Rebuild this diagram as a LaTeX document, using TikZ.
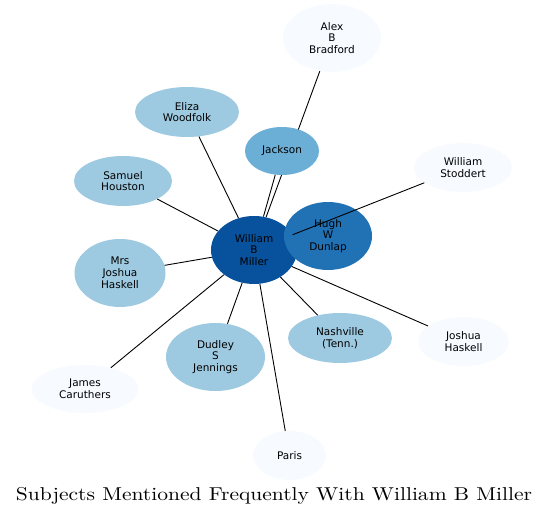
\documentclass[tikz,border=0pt]{standalone}
\usepackage{fontspec}
\newfontfamily\subjfont{DejaVu Sans}
\newfontfamily\titlefont{lmroman10-regular.otf}
\usetikzlibrary{positioning,shapes.geometric}
\definecolor{blueA}{HTML}{08519C}
\definecolor{blueB}{HTML}{2171B5}
\definecolor{blueC}{HTML}{6BAED6}
\definecolor{blueD}{HTML}{9ECAE1}
\definecolor{blueE}{HTML}{F7FBFF}
\pgfdeclarelayer{back}
\pgfsetlayers{back,main}

\begin{document}
\begin{tikzpicture}[x=1pt,y=1pt,on grid,
	subject/.style={ellipse,draw=none,inner sep=0pt,align=center,
		font=\subjfont\fontsize{10.5}{11.8}\selectfont},
	link/.style={line width=0.9pt}]
	\useasboundingbox (0,0) rectangle (545,516);
	\node[subject,fill=blueA,minimum width=86pt,minimum height=68pt] (miller) at (254,266) {William\\B\\Miller};
	\node[subject,fill=blueB,minimum width=88pt,minimum height=68pt,above right=14pt and 74pt of miller] (dunlap) {Hugh\\W\\Dunlap};
	\node[subject,fill=blueC,minimum width=74pt,minimum height=48pt,above right=99pt and 28pt of miller] (jackson) {Jackson};
	\node[subject,fill=blueE,minimum width=98pt,minimum height=68pt,above right=212pt and 78pt of miller] (bradford) {Alex\\B\\Bradford};
	\node[subject,fill=blueD,minimum width=104pt,minimum height=50pt,above left=138pt and 67pt of miller] (woodfolk) {Eliza\\Woodfolk};
	\node[subject,fill=blueD,minimum width=98pt,minimum height=50pt,above left=69pt and 131pt of miller] (houston) {Samuel\\Houston};
	\node[subject,fill=blueD,minimum width=91pt,minimum height=68pt,below left=23pt and 134pt of miller] (mrshaskell) {Mrs\\Joshua\\Haskell};
	\node[subject,fill=blueE,minimum width=98pt,minimum height=49pt,above right=82.5pt and 209pt of miller] (stoddert) {William\\Stoddert};
	\node[subject,fill=blueE,minimum width=91pt,minimum height=49pt,below right=91.5pt and 209.5pt of miller] (haskell) {Joshua\\Haskell};
	\node[subject,fill=blueD,minimum width=104pt,minimum height=50pt,below right=88pt and 86pt of miller] (nashville) {Nashville\\(Tenn.)};
	\node[subject,fill=blueD,minimum width=99pt,minimum height=68pt,below left=107pt and 38.5pt of miller] (jennings) {Dudley\\S\\Jennings};
	\node[subject,fill=blueE,minimum width=107pt,minimum height=48pt,below left=139pt and 169pt of miller] (caruthers) {James\\Caruthers};
	\node[subject,fill=blueE,minimum width=73pt,minimum height=49pt,below right=205.5pt and 35.5pt of miller] (paris) {Paris};
	\begin{pgfonlayer}{back}
		\draw[link] (miller) -- (bradford);
	\end{pgfonlayer}
	\draw[link] (miller) -- (jackson);
	\draw[link] (miller) -- (woodfolk);
	\draw[link] (miller) -- (houston);
	\draw[link] (miller) -- (mrshaskell);
	\draw[link] (miller) -- (caruthers);
	\draw[link] (miller) -- (jennings);
	\draw[link] (miller) -- (paris);
	\draw[link] (miller) -- (nashville);
	\draw[link] (miller) -- (haskell);
	\draw[link] (miller) -- (stoddert);
	\node[anchor=base,inner sep=0pt,font=\titlefont\fontsize{18.6}{22}\selectfont] (title) at (274,15.5) {\scalebox{1.158}[1]{Subjects Mentioned Frequently With William B Miller}};
\end{tikzpicture}
\end{document}
